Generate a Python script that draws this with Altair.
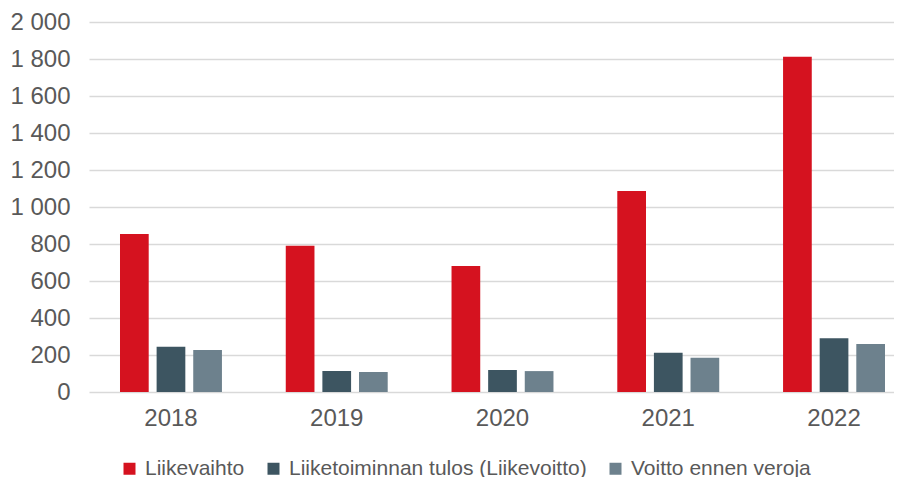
import altair as alt
import pandas as pd

years = ["2018", "2019", "2020", "2021", "2022"]
series = ["Liikevaihto", "Liiketoiminnan tulos (Liikevoitto)", "Voitto ennen veroja"]
liikevaihto = [854, 791, 681, 1086, 1812]
liiketoiminnan_tulos = [245, 113, 119, 212, 290]
voitto_ennen_veroja = [227, 108, 113, 185, 259]
colors = ["#D5121F", "#3D5561", "#6D818D"]
y_ticks = [0, 200, 400, 600, 800, 1000, 1200, 1400, 1600, 1800, 2000]

rows = []
for s, vals in zip(series, [liikevaihto, liiketoiminnan_tulos, voitto_ennen_veroja]):
    for yr, v in zip(years, vals):
        rows.append({"Vuosi": yr, "Sarja": s, "Arvo": v})
df = pd.DataFrame(rows)

FONT = "Liberation Sans"

chart = alt.Chart(df).mark_bar().encode(
    x=alt.X("Vuosi:N", sort=years,
            scale=alt.Scale(range=[0, 827], paddingInner=0.385, paddingOuter=0.187),
            axis=alt.Axis(title=None, labelAngle=0, domain=False, ticks=False, grid=False,
                          labelFontSize=24, labelColor="#595959", labelFont=FONT,
                          labelPadding=14)),
    xOffset=alt.XOffset("Sarja:N", sort=series,
                        scale=alt.Scale(paddingInner=0.216, paddingOuter=0)),
    y=alt.Y("Arvo:Q", scale=alt.Scale(domain=[0, 2000], nice=False),
            axis=alt.Axis(title=None, values=y_ticks, domain=False, ticks=False,
                          grid=True, gridColor="#D9D9D9", gridWidth=1.5,
                          labelFontSize=24, labelColor="#595959", labelFont=FONT,
                          labelPadding=19,
                          labelExpr="replace(format(datum.value, ',d'), ',', ' ')")),
    color=alt.Color("Sarja:N", sort=series,
                    scale=alt.Scale(domain=series, range=colors),
                    legend=alt.Legend(title=None, orient="none", legendX=30, legendY=436,
                                      direction="horizontal", symbolType="square",
                                      symbolSize=144, symbolStrokeWidth=0,
                                      labelFontSize=21, labelColor="#595959",
                                      labelFont=FONT, labelOffset=5, columnPadding=18,
                                      padding=0, labelLimit=500)),
).properties(
    width=805,
    height=370,
    autosize=alt.AutoSizeParams(type="none"),
    padding={"left": 81, "top": 14, "right": 0, "bottom": 90},
).configure_view(stroke=None)

chart.save("out.html", embed_options={"renderer": "svg", "actions": False})
